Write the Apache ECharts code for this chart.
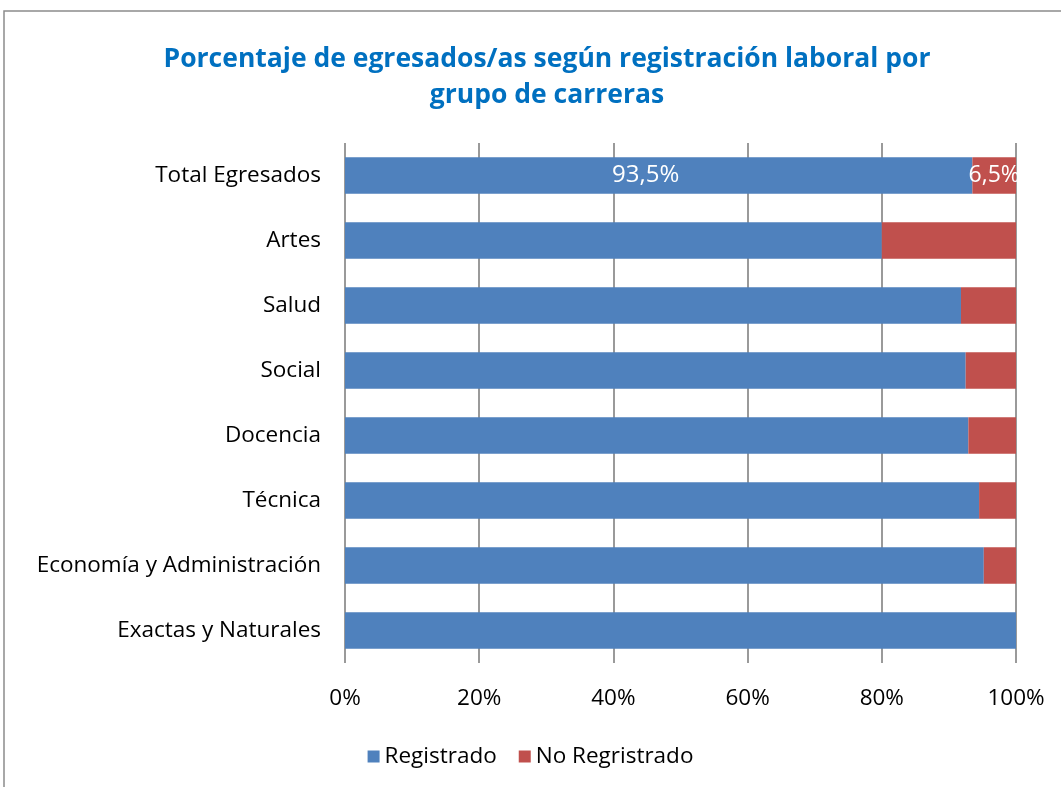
<!DOCTYPE html>
<html>
<head>
<meta charset="utf-8">
<script src="https://cdn.jsdelivr.net/npm/echarts@6/dist/echarts.min.js"></script>
<style>
html,body{margin:0;padding:0;background:#fff;}
#chart{width:1061px;height:787px;}
</style>
</head>
<body>
<div id="chart"></div>
<script>
// datos
var categorias = ['Total Egresados','Artes','Salud','Social','Docencia','Técnica','Economía y Administración','Exactas y Naturales'];
var registrado = [93.5, 80.0, 91.8, 92.5, 92.9, 94.5, 95.2, 100];
var noRegistrado = [6.5, 20.0, 8.2, 7.5, 7.1, 5.5, 4.8, 0];
var ticksX = [0, 20, 40, 60, 80, 100];

(function(){
var chart = echarts.init(document.getElementById('chart'));
var fuente = 'Open Sans, Liberation Sans, sans-serif';

function etiqueta(p){
    // solo se rotula el total
    if (p.dataIndex !== 0) return '';
    return String(p.value.toFixed(1)).replace('.', ',') + '%';
}

var option = {
    backgroundColor: '#fff',
    title: {
        text: 'Porcentaje de egresados/as según registración laboral por\ngrupo de carreras',
        left: 542,
        textAlign: 'center',
        top: 36,
        textStyle: {color: '#0070C0', fontSize: 26.5, fontWeight: 'bold', fontFamily: fuente, lineHeight: 36}
    },
    legend: {
        bottom: 14,
        left: 'center',
        itemWidth: 12,
        itemHeight: 12,
        itemGap: 22,
        icon: 'rect',
        textStyle: {fontSize: 22.5, color: '#000', fontFamily: fuente},
        data: ['Registrado', 'No Regristrado']
    },
    graphic: [{
        type: 'rect',
        shape: {x: 4, y: 11, width: 1100, height: 800},
        style: {fill: 'none', stroke: '#8c8c8c', lineWidth: 1.5},
        silent: true
    }],
    grid: {left: 345, right: 45, top: 143, bottom: 124, containLabel: false},
    xAxis: {
        type: 'value',
        min: 0, max: 100, interval: 20,
        axisLine: {show: false},
        axisTick: {show: false},
        splitLine: {lineStyle: {color: '#9a9a9a', width: 2}},
        axisLabel: {
            margin: 24,
            fontSize: 22.5, color: '#000', fontFamily: fuente,
            formatter: function(v){ return ticksX.indexOf(v) >= 0 ? v + '%' : ''; }
        }
    },
    yAxis: {
        type: 'category',
        inverse: true,
        data: categorias,
        axisLine: {show: false},
        axisTick: {show: false},
        axisLabel: {margin: 24, fontSize: 22.5, color: '#000', fontFamily: fuente}
    },
    series: [
        {
            name: 'Registrado',
            type: 'bar',
            stack: 'total',
            data: registrado,
            barCategoryGap: '44%',
            itemStyle: {color: '#4F81BD'},
            label: {show: true, position: 'inside', offset: [-13, 0], color: '#fff', fontSize: 24, fontFamily: fuente, formatter: etiqueta}
        },
        {
            name: 'No Regristrado',
            type: 'bar',
            stack: 'total',
            data: noRegistrado,
            itemStyle: {color: '#C0504D'},
            label: {show: true, position: 'inside', color: '#fff', fontSize: 23, fontFamily: fuente, formatter: etiqueta}
        }
    ]
};

chart.setOption(option);
})();
</script>
</body>
</html>
